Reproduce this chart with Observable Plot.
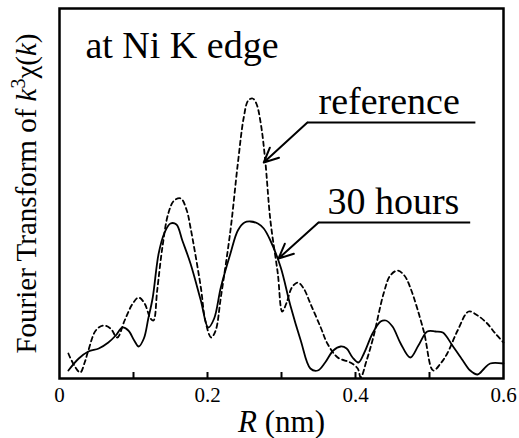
<!DOCTYPE html>
<html>
<head>
<meta charset="utf-8">
<script src="https://cdn.jsdelivr.net/npm/d3@7"></script>
<script src="https://cdn.jsdelivr.net/npm/@observablehq/plot@0.6"></script>
<style>
  html, body { margin: 0; padding: 0; background: #fff; }
  #chart { width: 519px; height: 438px; }
</style>
</head>
<body>
<div id="chart"></div>
<script>
// R (nm) and FT magnitude (arbitrary units) — 30 hours (solid)
const hoursR = [0.012,0.026,0.039,0.053,0.066,0.076,0.085,0.093,0.101,0.107,0.114,0.120,0.126,0.134,0.142,0.150,0.158,0.166,0.177,0.191,0.201,0.209,0.218,0.231,0.241,0.250,0.258,0.268,0.276,0.285,0.299,0.312,0.326,0.339,0.349,0.359,0.370,0.380,0.388,0.396,0.404,0.412,0.423,0.434,0.441,0.450,0.461,0.474,0.485,0.497,0.508,0.518,0.531,0.545,0.555,0.565,0.574,0.582,0.600];
const hoursFT = [8,20,27,30,36,43,51,48,38,32,40,60,81,125,146,155,154,138,115,78,51,60,91,125,148,156,157,155,150,138,111,73,38,10,8,16,28,32,30,21,16,26,45,57,58,52,35,21,33,47,47,46,33,18,8,4,10,15,15];

// reference (dashed)
const refR = [0.012,0.020,0.028,0.034,0.039,0.049,0.059,0.069,0.078,0.088,0.099,0.107,0.115,0.123,0.127,0.132,0.139,0.147,0.155,0.164,0.172,0.177,0.191,0.197,0.205,0.211,0.218,0.231,0.241,0.249,0.255,0.261,0.266,0.272,0.278,0.285,0.295,0.301,0.307,0.314,0.322,0.330,0.339,0.353,0.362,0.376,0.393,0.403,0.407,0.415,0.424,0.438,0.447,0.457,0.466,0.474,0.492,0.505,0.515,0.524,0.538,0.553,0.565,0.578,0.589,0.600];
const refFT = [25,13,6,16,28,48,53,50,41,58,75,81,75,60,58,88,131,165,178,180,168,151,91,58,41,48,81,148,215,261,278,280,275,255,218,158,105,67,76,91,96,90,75,51,35,21,16,10,1,18,41,85,103,108,103,91,48,8,15,25,48,67,63,55,45,36];

// tick values / labels
const minorTicks = [0.1, 0.2, 0.3, 0.4, 0.5];
const labelTicks = [0, 0.2, 0.4, 0.6];
const tickLabels = ["0", "0.2", "0.4", "0.6"];

// annotations
const annoText = ["reference", "30 hours"];
const annoTextX = [0.350, 0.362];
const annoTextY = [265, 165];
const annoLineX1 = [0.335, 0.350];
const annoLineX2 = [0.562, 0.555];
const annoLineY = [256, 156];
const annoTipX = [0.276, 0.296];
const annoTipY = [216, 120];
const titleText = "at Ni K edge";
const titleX = 0.035;
const titleY = 321;
const xLabel = "R (nm)";
const yLabel = "Fourier Transform of k3χ(k)";

const hours = hoursR.map((r, i) => ({r, v: hoursFT[i]}));
const ref = refR.map((r, i) => ({r, v: refFT[i]}));
const anno = annoText.map((t, i) => ({
  t, tx: annoTextX[i], ty: annoTextY[i],
  x1: annoLineX1[i], x2: annoLineX2[i], y: annoLineY[i],
  tipX: annoTipX[i], tipY: annoTipY[i]
}));

const svg = Plot.plot({
  width: 519,
  height: 438,
  marginLeft: 59,
  marginRight: 16,
  marginTop: 8,
  marginBottom: 60,
  style: {background: "#fff", color: "#000"},
  x: {domain: [0, 0.6], label: null},
  y: {domain: [0, 370], label: null, axis: null},
  marks: [
    Plot.axisX(labelTicks, {
      tickSize: 0, tickPadding: 9, fontSize: 21, label: null, fontFamily: "Times New Roman",
      tickFormat: (d) => tickLabels[labelTicks.indexOf(d)]
    }),
    Plot.ruleX(minorTicks, {y1: 0, y2: 6, stroke: "#000", strokeWidth: 2}),
    Plot.line(ref, {x: "r", y: "v", stroke: "#000", strokeWidth: 1.8, strokeDasharray: "4.5,3.5", curve: "catmull-rom"}),
    Plot.line(hours, {x: "r", y: "v", stroke: "#000", strokeWidth: 1.8, curve: "catmull-rom"}),
    Plot.link(anno, {x1: "x1", x2: "x2", y1: "y", y2: "y", stroke: "#000", strokeWidth: 2}),
    Plot.arrow(anno, {x1: "x1", y1: "y", x2: "tipX", y2: "tipY", stroke: "#000", strokeWidth: 2, headLength: 12, headAngle: 50}),
    Plot.text(anno, {x: "tx", y: "ty", text: "t", textAnchor: "start", lineAnchor: "bottom", fontSize: 38, fontFamily: "Times New Roman", fill: "#000"}),
    Plot.text([titleText], {x: titleX, y: titleY, text: d => d, textAnchor: "start", lineAnchor: "bottom", fontSize: 38, fontFamily: "Times New Roman", fill: "#000"}),
    Plot.text([xLabel], {frameAnchor: "bottom", dy: 53, text: d => d, textAnchor: "middle", lineAnchor: "bottom", fontSize: 31, fontFamily: "Times New Roman", fill: "#000"}),
    Plot.text([yLabel], {frameAnchor: "left", dx: -24, rotate: -90, text: d => d, textAnchor: "middle", lineAnchor: "bottom", fontSize: 29, fontFamily: "Times New Roman", fill: "#000"}),
    Plot.frame({stroke: "#000", strokeWidth: 2.5})
  ]
});

const serifCss = "'Times New Roman', 'Liberation Serif', serif";
svg.setAttribute("font-family", "Times New Roman");
svg.style.fontFamily = serifCss;

// rich text for axis labels (italic variables, superscript) and serif font on every text
d3.select(svg).selectAll("text").each(function() {
  const el = d3.select(this);
  if (this.textContent === xLabel) {
    el.text(null);
    el.append("tspan").attr("font-style", "italic").text("R");
    el.append("tspan").text(" (nm)");
  } else if (this.textContent === yLabel) {
    el.text(null);
    el.append("tspan").text("Fourier Transform of ");
    el.append("tspan").attr("font-style", "italic").text("k");
    el.append("tspan").attr("dy", -11).attr("font-size", 20).text("3");
    el.append("tspan").attr("dy", 11).text("χ(");
    el.append("tspan").attr("font-style", "italic").text("k");
    el.append("tspan").text(")");
  }
  this.style.fontFamily = serifCss;
});

document.getElementById("chart").appendChild(svg);
</script>
</body>
</html>
